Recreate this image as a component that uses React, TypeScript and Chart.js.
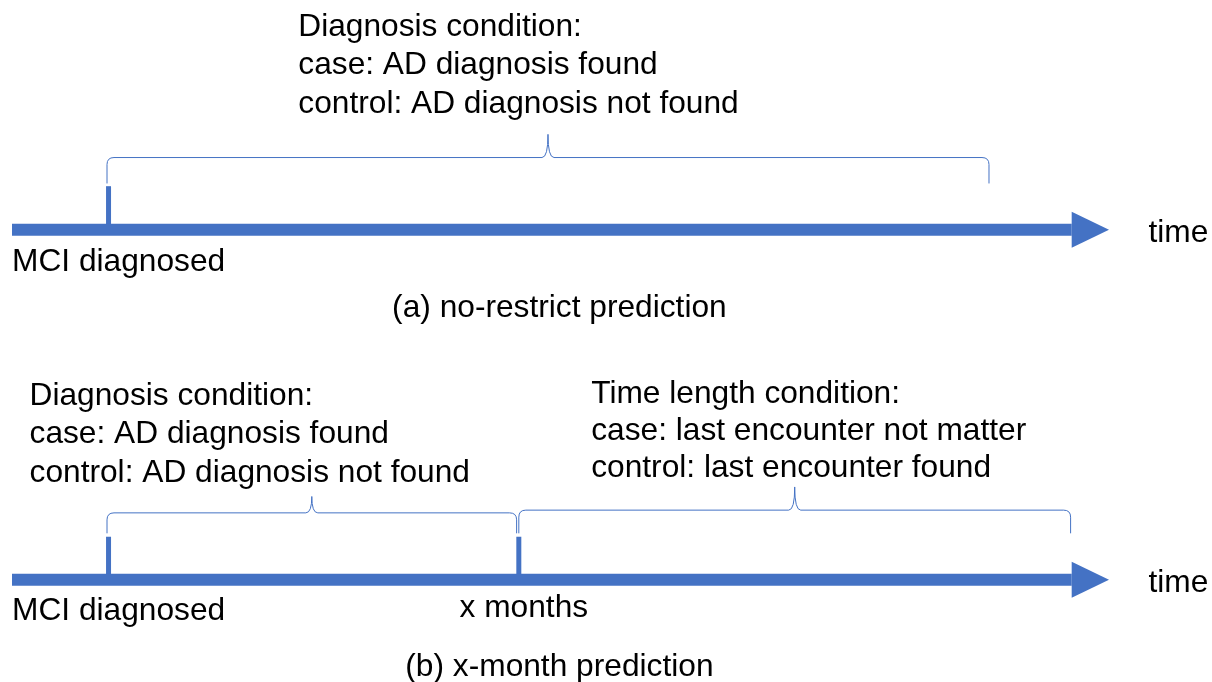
import React, { useEffect, useRef } from 'react';
import { Chart, registerables } from 'chart.js';

Chart.register(...registerables);

// ---- data (time axis t: 0 = start of the timeline, 100 = arrow tip; y: layout rows 0..100 top->bottom)
const panelCaptions = ['(a) no-restrict prediction', '(b) x-month prediction'];
const panelAxisY = [33.7, 85.0];
const arrowBaseT = [96.6, 96.6];
const timeLabel = 'time';
const timeLabelT = 103.6;
const timeLabelY = [35.5, 86.8];
const captionT = 49.9;
const captionY = [46.5, 99.1];

const eventNames = ['MCI diagnosed', 'MCI diagnosed', 'x months'];
const eventPanel = [0, 1, 1];
const eventT = [8.8, 8.8, 46.2];
const eventTickTopY = [27.3, 78.7, 78.7];
const eventLabelT = [0, 0, 40.8];
const eventLabelY = [39.7, 90.9, 90.5];

const braceStartT = [8.66, 8.66, 46.2];
const braceEndT = [89.06, 46.0, 96.5];
const braceFootY = [26.9, 78.2, 78.2];
const braceBarY = [23.1, 75.2, 74.8];
const bracePeakY = [19.7, 72.8, 71.4];

const conditionTitles = ['Diagnosis condition:', 'Diagnosis condition:', 'Time length condition:'];
const caseLines = ['case: AD diagnosis found', 'case: AD diagnosis found', 'case: last encounter not matter'];
const controlLines = ['control: AD diagnosis not found', 'control: AD diagnosis not found', 'control: last encounter found'];
const blockT = [26.1, 1.6, 52.8];
const blockFirstY = [5.3, 59.4, 59.1];
const blockLineStep = [5.6, 5.62, 5.43];

// ---- styles
const BLUE = '#4472C4';
const FONT = '31.7px "Liberation Sans", Arial, Helvetica, sans-serif';
const SHAFT_WIDTH = 12;
const TICK_WIDTH = 5;
const HEAD_HALF = 18;
const CORNER = 7;
const CUSP = 6;

const diagramPlugin = {
  id: 'diagram',
  afterDatasetsDraw(chart: any) {
    const ctx: CanvasRenderingContext2D = chart.ctx;
    const xs = chart.scales.x;
    const ys = chart.scales.y;
    ctx.save();

    // arrow heads
    ctx.fillStyle = BLUE;
    panelAxisY.forEach((y, i) => {
      const py = ys.getPixelForValue(y);
      const bx = xs.getPixelForValue(arrowBaseT[i]);
      const tx = xs.getPixelForValue(100);
      ctx.beginPath();
      ctx.moveTo(bx, py - HEAD_HALF);
      ctx.lineTo(tx, py);
      ctx.lineTo(bx, py + HEAD_HALF);
      ctx.closePath();
      ctx.fill();
    });

    // braces
    ctx.strokeStyle = BLUE;
    ctx.lineWidth = 1;
    braceStartT.forEach((t0, i) => {
      const x0 = xs.getPixelForValue(t0);
      const x1 = xs.getPixelForValue(braceEndT[i]);
      const xm = (x0 + x1) / 2;
      const yf = ys.getPixelForValue(braceFootY[i]);
      const yb = ys.getPixelForValue(braceBarY[i]);
      const yp = ys.getPixelForValue(bracePeakY[i]);
      ctx.beginPath();
      ctx.moveTo(x0, yf);
      ctx.lineTo(x0, yb + CORNER);
      ctx.quadraticCurveTo(x0, yb, x0 + CORNER, yb);
      ctx.lineTo(xm - CUSP, yb);
      ctx.quadraticCurveTo(xm, yb, xm, yp);
      ctx.quadraticCurveTo(xm, yb, xm + CUSP, yb);
      ctx.lineTo(x1 - CORNER, yb);
      ctx.quadraticCurveTo(x1, yb, x1, yb + CORNER);
      ctx.lineTo(x1, yf);
      ctx.stroke();
    });

    // texts
    ctx.fillStyle = '#000';
    ctx.font = FONT;
    ctx.textBaseline = 'alphabetic';
    ctx.textAlign = 'left';
    conditionTitles.forEach((title, i) => {
      const x = xs.getPixelForValue(blockT[i]);
      [title, caseLines[i], controlLines[i]].forEach((line, k) => {
        ctx.fillText(line, x, ys.getPixelForValue(blockFirstY[i] + k * blockLineStep[i]));
      });
    });
    eventNames.forEach((name, i) => {
      ctx.fillText(name, xs.getPixelForValue(eventLabelT[i]), ys.getPixelForValue(eventLabelY[i]));
    });
    timeLabelY.forEach((y) => {
      ctx.fillText(timeLabel, xs.getPixelForValue(timeLabelT), ys.getPixelForValue(y));
    });
    ctx.textAlign = 'center';
    panelCaptions.forEach((cap, i) => {
      ctx.fillText(cap, xs.getPixelForValue(captionT), ys.getPixelForValue(captionY[i]));
    });
    ctx.restore();
  },
};

export default function App() {
  const ref = useRef<HTMLCanvasElement>(null);
  useEffect(() => {
    document.body.style.margin = '0';
    const shaftSets = panelAxisY.map((y, i) => ({
      label: 'timeline ' + (i + 1),
      data: [
        { x: 0, y },
        { x: arrowBaseT[i], y },
      ],
      showLine: true,
      borderColor: BLUE,
      borderWidth: SHAFT_WIDTH,
      borderCapStyle: 'butt' as const,
      pointRadius: 0,
      clip: false as any,
    }));
    const tickSets = eventT.map((t, i) => ({
      label: eventNames[i],
      data: [
        { x: t, y: panelAxisY[eventPanel[i]] },
        { x: t, y: eventTickTopY[i] },
      ],
      showLine: true,
      borderColor: BLUE,
      borderWidth: TICK_WIDTH,
      borderCapStyle: 'butt' as const,
      pointRadius: 0,
      clip: false as any,
    }));
    const chart = new Chart(ref.current!, {
      type: 'scatter',
      data: { datasets: [...shaftSets, ...tickSets] },
      options: {
        responsive: false,
        animation: false,
        devicePixelRatio: 1,
        events: [],
        layout: { padding: { left: 12, right: 103, top: 0, bottom: 0 } },
        plugins: { legend: { display: false }, tooltip: { enabled: false } },
        scales: {
          x: { type: 'linear', min: 0, max: 100, display: false },
          y: { type: 'linear', min: 0, max: 100, reverse: true, display: false },
        },
      },
      plugins: [diagramPlugin],
    });
    return () => chart.destroy();
  }, []);
  return (
    <div style={{ width: 1212, height: 682, background: '#fff' }}>
      <canvas ref={ref} width={1212} height={682} style={{ display: 'block' }} />
    </div>
  );
}
